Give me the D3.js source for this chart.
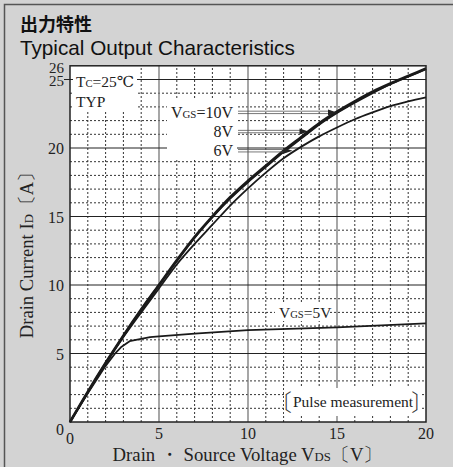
<!DOCTYPE html>
<html><head><meta charset="utf-8">
<script src="https://cdn.jsdelivr.net/npm/d3@7/dist/d3.min.js"></script>
<style>
html,body{margin:0;padding:0;background:#d3d3d3;}
svg{display:block;}
.serif{font-family:"Liberation Serif","DejaVu Serif",serif;fill:#222;}
</style></head>
<body>
<script>
// ---- data ----
const vds = [0,1,2,3,4,5,6,7,8,9,10,11,12,13,14,15,16,17,18,19,20];
const id10 = [0,2.2,4.3,6.3,8.2,10.0,11.8,13.5,15.0,16.4,17.6,18.7,19.8,20.8,21.8,22.65,23.4,24.1,24.7,25.25,25.8];
const id8  = [0,2.2,4.3,6.3,8.2,10.0,11.75,13.45,14.95,16.3,17.5,18.6,19.7,20.7,21.7,22.55,23.3,24.0,24.65,25.2,25.75];
const id6  = [0,2.15,4.25,6.2,8.0,9.75,11.5,13.0,14.4,15.8,17.05,18.2,19.25,20.1,20.85,21.5,22.1,22.6,23.05,23.4,23.7];
const vds5 = [0,1,2,2.5,2.9,3.35,4.5,5,7,10,15,20];
const id5  = [0,2.1,4.1,4.95,5.5,5.9,6.2,6.25,6.45,6.7,6.9,7.2];
const xTicks = [0,5,10,15,20];
const yTicks = [0,5,10,15,20,25,26];
const arrowLabels = ["10V","8V","6V"];
const arrowTipV = [15.0,13.4,12.5];
const arrowTipA = [22.6,21.2,19.8];

const W=453,H=467;
const svg=d3.select("body").append("svg").attr("width",W).attr("height",H);
const x=d3.scaleLinear().domain([0,20]).range([70,426]);
const y=d3.scaleLinear().domain([0,26]).range([422,65.8]);

function fit(sel,target){
  const w=sel.node().getBBox().width;
  const fs=parseFloat(sel.attr("font-size"));
  sel.attr("font-size",fs*target/w);
  sel.selectAll("tspan").each(function(){const t=d3.select(this);const f=parseFloat(t.attr("font-size"));if(f)t.attr("font-size",f*target/w);});
  return sel;
}
function subText(sel, parts, size){
  sel.attr("font-size",size);
  parts.forEach(p=>{sel.append("tspan").attr("font-size",p[1]?size*0.68:size).text(p[0]);});
  return sel;
}

// frame
svg.append("rect").attr("x",0).attr("y",0).attr("width",W).attr("height",H).attr("fill","#d3d3d3");
svg.append("path").attr("d",`M4.5,${H}V4.5H${W}`).attr("fill","none").attr("stroke","#555").attr("stroke-width",1.5);

// titles
fit(svg.append("text").attr("x",20).attr("y",31).text("出力特性")
  .attr("font-family","'Noto Sans CJK JP','Noto Sans CJK SC',sans-serif").attr("font-weight","bold").attr("font-size",18).attr("fill","#111"),72);
fit(svg.append("text").attr("x",20).attr("y",55).text("Typical Output Characteristics")
  .attr("font-family","'Liberation Sans',Arial,sans-serif").attr("font-size",20).attr("fill","#111"),275);

// plot bg
svg.append("rect").attr("x",x(0)).attr("y",y(26)).attr("width",x(20)-x(0)).attr("height",y(0)-y(26)).attr("fill","#fff");

const g=svg.append("g");
const minorX=d3.range(1,20).filter(v=>v%5!==0);
const minorY=d3.range(1,26).filter(v=>v%5!==0);
g.selectAll(".mx").data(minorX).join("line").attr("x1",d=>x(d)).attr("x2",d=>x(d)).attr("y1",y(0)).attr("y2",y(26))
 .attr("stroke","#333").attr("stroke-width",1).attr("stroke-dasharray","2,2");
g.selectAll(".my").data(minorY).join("line").attr("y1",d=>y(d)).attr("y2",d=>y(d)).attr("x1",x(0)).attr("x2",x(20))
 .attr("stroke","#333").attr("stroke-width",1).attr("stroke-dasharray","2,2");
g.selectAll(".Mx").data([5,10,15]).join("line").attr("x1",d=>x(d)).attr("x2",d=>x(d)).attr("y1",y(0)).attr("y2",y(26))
 .attr("stroke","#777").attr("stroke-width",1.3);
g.selectAll(".My").data([5,10,15,20,25]).join("line").attr("y1",d=>y(d)).attr("y2",d=>y(d)).attr("x1",d=>x(0)-(d===25?6:0)).attr("x2",x(20))
 .attr("stroke","#222").attr("stroke-width",1.2);

// white label boxes
const boxes=[[73,68,64,42],[167,100,70,58],[275,302,55,19],[284,388,137,28]];
svg.selectAll(".box").data(boxes).join("rect").attr("x",d=>d[0]).attr("y",d=>d[1]).attr("width",d=>d[2]).attr("height",d=>d[3]).attr("fill","#fff");

// curves
const smooth=d3.line().x(d=>x(d[0])).y(d=>y(d[1])).curve(d3.curveMonotoneX);
const straight=d3.line().x(d=>x(d[0])).y(d=>y(d[1]));
const series=[
  {v:vds5,a:id5,w:1.8,f:straight},
  {v:vds,a:id6,w:1.8,f:smooth},
  {v:vds,a:id8,w:1.8,f:smooth},
  {v:vds,a:id10,w:2.8,f:smooth}
];
svg.selectAll(".curve").data(series).join("path").attr("fill","none").attr("stroke","#1a1a1a")
 .attr("stroke-width",d=>d.w).attr("stroke-linejoin","round")
 .attr("d",d=>d.f(d.v.map((v,i)=>[v,d.a[i]])));

// border
svg.append("rect").attr("x",x(0)).attr("y",y(26)).attr("width",x(20)-x(0)).attr("height",y(0)-y(26))
 .attr("fill","none").attr("stroke","#222").attr("stroke-width",1.5);

// tick labels
svg.selectAll(".xt").data(xTicks).join("text").attr("class","serif").attr("text-anchor","middle")
 .attr("x",d=>x(d)).attr("y",d=>d===0?444:439).attr("font-size",16).text(d=>d);
svg.selectAll(".yt").data(yTicks).join("text").attr("class","serif").attr("text-anchor","end")
 .attr("x",64).attr("y",d=>y(d)+(d===0?13:d===26?7:6)).attr("font-size",d=>d>=25?15:16).text(d=>d);

// annotations
subText(svg.append("text").attr("class","serif").attr("x",76).attr("y",87),[["T",0],["C",1],["=25℃",0]],15.5);
svg.append("text").attr("class","serif").attr("x",76).attr("y",107).attr("font-size",15.5).text("TYP");

// arrows
arrowLabels.forEach((lab,i)=>{
  const ty=y(arrowTipA[i]);
  const t=svg.append("text").attr("class","serif").attr("text-anchor","end").attr("x",233).attr("y",ty+5.5);
  if(i===0) subText(t,[["V",0],["GS",1],["=10V",0]],16); else t.attr("font-size",16).text(lab);
  const x0=238, x1=x(arrowTipV[i]);
  [-1.2,1.2].forEach(o=>svg.append("line").attr("x1",x0).attr("x2",x1-6).attr("y1",ty+o).attr("y2",ty+o).attr("stroke","#555").attr("stroke-width",0.8));
  svg.append("path").attr("d",`M${x1},${ty}L${x1-9},${ty-3}L${x1-9},${ty+3}Z`).attr("fill","#222");
});
subText(svg.append("text").attr("class","serif").attr("x",279).attr("y",318),[["V",0],["GS",1],["=5V",0]],15.5);

// pulse
svg.append("text").attr("class","serif").attr("x",293).attr("y",407).attr("font-size",15.5).text("Pulse measurement");
svg.append("text").attr("x",292).attr("y",411).attr("text-anchor","end").attr("font-size",23).attr("font-family","'Noto Sans CJK JP',serif").attr("fill","#333").attr("font-weight",300).text("〔");
svg.append("text").attr("x",411).attr("y",411).attr("text-anchor","start").attr("font-size",23).attr("font-family","'Noto Sans CJK JP',serif").attr("fill","#333").attr("font-weight",300).text("〕");

// axis titles
fit(subText(svg.append("text").attr("class","serif").attr("text-anchor","middle").attr("x",247.5).attr("y",461),
  [["Drain ・ Source Voltage  V",0],["DS",1],["〔V〕",0]],18),269);
fit(subText(svg.append("text").attr("class","serif").attr("text-anchor","middle").attr("transform","translate(33,250.5) rotate(-90)"),
  [["Drain Current  I",0],["D",1],["〔A〕",0]],18),175);
</script>
</body></html>
